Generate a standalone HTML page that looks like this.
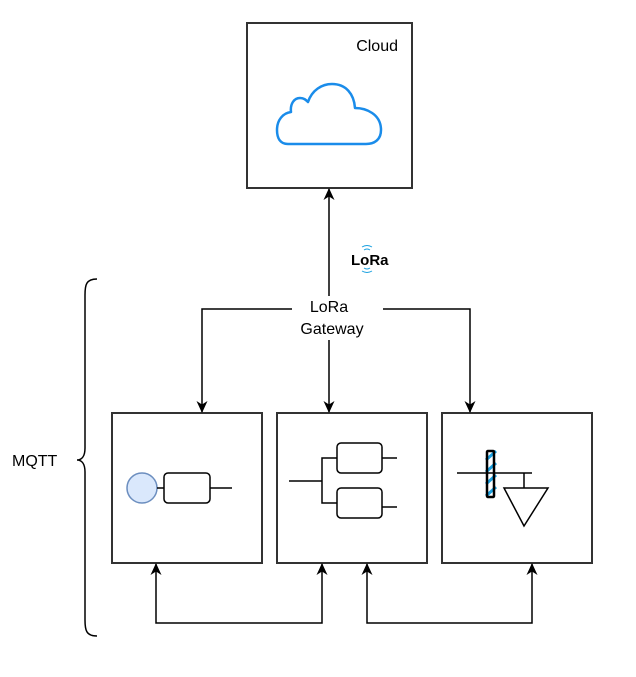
<!DOCTYPE html>
<html><head><style>body{margin:0;background:#fff}svg{display:block}</style></head><body>
<svg width="636" height="677" viewBox="0 0 636 677" xmlns="http://www.w3.org/2000/svg" font-family="Liberation Sans, sans-serif">
<defs><marker id="a" markerWidth="12" markerHeight="11" refX="11" refY="5.5" orient="auto-start-reverse" markerUnits="userSpaceOnUse" viewBox="0 0 12 11"><path d="M0,0 L12,5.5 L0,11 L3.5,5.5 Z" fill="#000"/></marker></defs>
<g fill="none" stroke="#333" stroke-width="2">
<rect x="247" y="23" width="165" height="165" fill="#fff"/>
<rect x="112" y="413" width="150" height="150"/>
<rect x="277" y="413" width="150" height="150"/>
<rect x="442" y="413" width="150" height="150"/>
</g>
<path d="M288,144 C280,144 277,138 277,130 C277,120 283,113 291,112 C290,104 294,98 300,98 C304,98 306,100 308,102 C312,90 322,84 332,84 C346,84 354,94 355,108 C366,108 381,114 381,130 C381,140 374,144 366,144 Z" fill="none" stroke="#1a8cea" stroke-width="2.5" stroke-linejoin="round"/>
<text x="398" y="51" font-size="16" text-anchor="end" fill="#000">Cloud</text>
<g stroke="#000" stroke-width="1.5" fill="none">
<line x1="329" y1="296" x2="329" y2="189" marker-end="url(#a)"/>
<polyline points="292,309 202,309 202,412" marker-end="url(#a)"/>
<line x1="329" y1="340" x2="329" y2="412" marker-end="url(#a)"/>
<polyline points="383,309 470,309 470,412" marker-end="url(#a)"/>
<polyline points="156,564 156,623 322,623 322,564" marker-start="url(#a)" marker-end="url(#a)"/>
<polyline points="367,564 367,623 532,623 532,564" marker-start="url(#a)" marker-end="url(#a)"/>
<path d="M97,279 C86,279 85,285 85,295 L85,448 C85,456 82,460 77,460 C82,460 85,464 85,472 L85,620 C85,630 86,636 97,636"/>
</g>
<text x="329" y="312" font-size="16" text-anchor="middle">LoRa</text>
<text x="332" y="334" font-size="16" text-anchor="middle">Gateway</text>
<text x="12" y="466" font-size="16">MQTT</text>
<text x="351" y="265" font-size="15" font-weight="bold">LoRa</text>
<g stroke="#1aa0e0" stroke-width="1" fill="none"><path d="M362,247 q5,-3 10,0 M364,250 q3,-2 6,0 M362,271 q5,3 10,0 M364,268 q3,2 6,0"/></g>
<g stroke="#000" stroke-width="1.5" fill="none">
<circle cx="142" cy="488" r="15" fill="#dae8fc" stroke="#6c8ebf"/>
<line x1="157" y1="488" x2="164" y2="488"/>
<rect x="164" y="473" width="46" height="30" rx="4"/>
<line x1="210" y1="488" x2="232" y2="488"/>
<line x1="289" y1="481" x2="322" y2="481"/>
<polyline points="337,458 322,458 322,503 337,503"/>
<rect x="337" y="443" width="45" height="30" rx="4"/>
<rect x="337" y="488" width="45" height="30" rx="4"/>
<line x1="382" y1="458" x2="397" y2="458"/>
<line x1="382" y1="507" x2="397" y2="507"/>
<line x1="457" y1="473" x2="532" y2="473"/>
<line x1="524" y1="473" x2="524" y2="488"/>
<path d="M504,488 L548,488 L524,526 Z"/>
<g stroke="#1aa0e0" stroke-width="3"><path d="M486,460 L496,451 M486,472 L496,463 M486,484 L496,475 M486,496 L496,487"/></g>
<rect x="487" y="451" width="7" height="46" rx="1" stroke-width="2.5"/>
</g>
</svg>
</body></html>
